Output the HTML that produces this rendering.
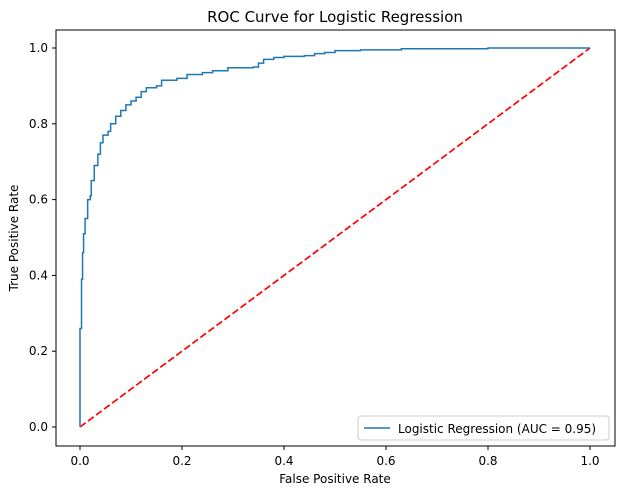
<!DOCTYPE html>
<html><head><meta charset="utf-8"><style>
body{margin:0;background:#fff;}
svg{display:block;font-family:"DejaVu Sans","Liberation Sans",sans-serif;}
</style></head><body>
<svg id="chart" width="624" height="494">
<rect width="624" height="494" fill="#fff"/>
<text x="335" y="22" font-size="15" text-anchor="middle">ROC Curve for Logistic Regression</text>
<g id="ticks"></g>
<g id="plot"></g>
<rect x="56" y="30" width="559" height="416" fill="none" stroke="#000" stroke-width="1"/>
<text x="335" y="483" font-size="12" text-anchor="middle">False Positive Rate</text>
<text x="18" y="238" font-size="12" text-anchor="middle" transform="rotate(-90 18 238)">True Positive Rate</text>
<g>
<rect x="358" y="416" width="251" height="24" rx="3" fill="#fff" stroke="#ccc"/>
<line x1="364" y1="428" x2="390" y2="428" stroke="#1f77b4" stroke-width="1.5"/>
<text x="398" y="433" font-size="12">Logistic Regression (AUC = 0.95)</text>
</g>
</svg>
<script>
const fpr=[0,0,0.003,0.003,0.005,0.007,0.01,0.015,0.02,0.022,0.028,0.035,0.04,0.045,0.055,0.06,0.07,0.08,0.09,0.1,0.11,0.12,0.13,0.15,0.16,0.19,0.21,0.24,0.26,0.29,0.34,0.35,0.36,0.38,0.40,0.44,0.46,0.48,0.50,0.55,0.63,0.80,1];
const tpr=[0,0.26,0.26,0.39,0.46,0.51,0.55,0.60,0.61,0.65,0.69,0.72,0.75,0.77,0.78,0.80,0.82,0.835,0.85,0.86,0.87,0.885,0.895,0.90,0.915,0.92,0.93,0.935,0.94,0.948,0.95,0.96,0.97,0.975,0.978,0.98,0.985,0.988,0.993,0.995,0.998,1.0,1.0];
const xTicks=[0,0.2,0.4,0.6,0.8,1.0];
const yTicks=[0,0.2,0.4,0.6,0.8,1.0];
const sx=v=>80+510*v, sy=v=>427-379*v;
const NS="http://www.w3.org/2000/svg";
const tg=document.getElementById('ticks'), pg=document.getElementById('plot');
xTicks.forEach(t=>{
 const l=document.createElementNS(NS,'line');
 l.setAttribute('x1',sx(t));l.setAttribute('x2',sx(t));l.setAttribute('y1',446);l.setAttribute('y2',450);l.setAttribute('stroke','#000');
 
 
 tg.appendChild(l);
 const s=document.createElementNS(NS,'text');
 s.setAttribute('x',sx(t));s.setAttribute('y',465);s.setAttribute('font-size','12');s.setAttribute('text-anchor','middle');
 s.textContent=t.toFixed(1);
 
 
 tg.appendChild(s);
});
yTicks.forEach(t=>{
 const l=document.createElementNS(NS,'line');
 l.setAttribute('x1',52);l.setAttribute('x2',56);l.setAttribute('y1',sy(t));l.setAttribute('y2',sy(t));l.setAttribute('stroke','#000');
 
 
 tg.appendChild(l);
 const s=document.createElementNS(NS,'text');
 s.setAttribute('x',48);s.setAttribute('y',sy(t)+4);s.setAttribute('font-size','12');s.setAttribute('text-anchor','end');
 s.textContent=t.toFixed(1);
 
 
 tg.appendChild(s);
});
const diag=document.createElementNS(NS,'line');
diag.setAttribute('x1',sx(0));diag.setAttribute('y1',sy(0));diag.setAttribute('x2',sx(1));diag.setAttribute('y2',sy(1));
diag.setAttribute('stroke','red');diag.setAttribute('stroke-width','1.7');diag.setAttribute('stroke-dasharray','7,3');


pg.appendChild(diag);
let d='';
for(let i=0;i<fpr.length;i++){
 if(i===0) d+='M'+sx(fpr[0])+' '+sy(tpr[0]);
 else d+=' L'+sx(fpr[i])+' '+sy(tpr[i-1])+' L'+sx(fpr[i])+' '+sy(tpr[i]);
}
const p=document.createElementNS(NS,'path');
p.setAttribute('d',d);p.setAttribute('fill','none');p.setAttribute('stroke','#1f77b4');p.setAttribute('stroke-width','1.5');


pg.appendChild(p);
</script>
</body></html>
